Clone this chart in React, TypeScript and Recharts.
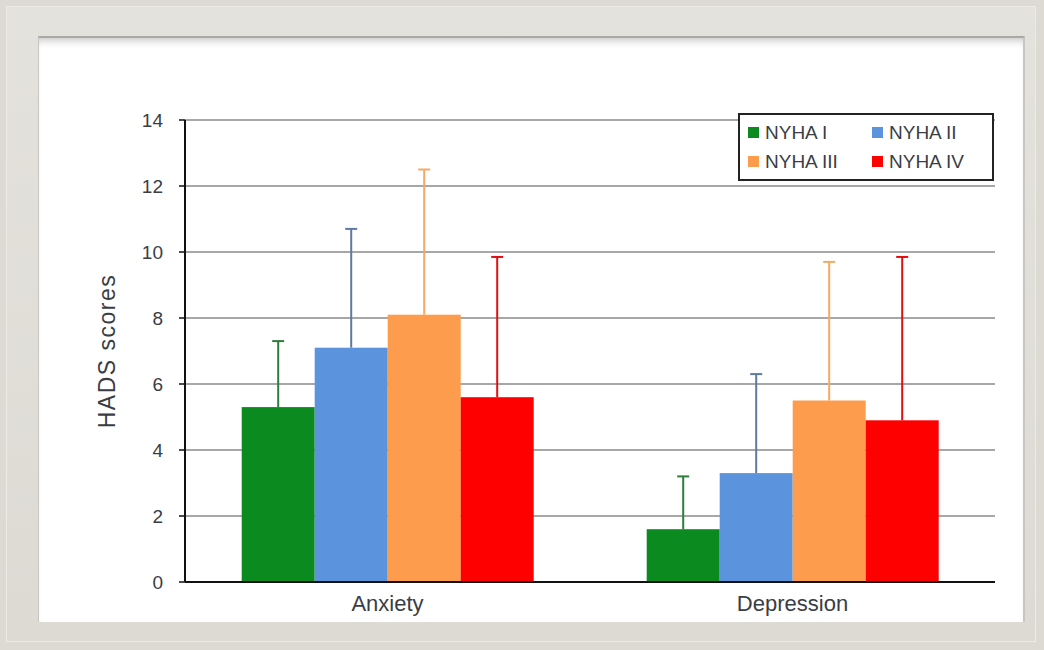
import { Bar, BarChart, CartesianGrid, XAxis, YAxis } from "recharts";

const categories = ["Anxiety", "Depression"];
const seriesNames = ["NYHA I", "NYHA II", "NYHA III", "NYHA IV"];
const nyha1 = [5.3, 1.6];
const nyha2 = [7.1, 3.3];
const nyha3 = [8.1, 5.5];
const nyha4 = [5.6, 4.9];
const sd1 = [2.0, 1.6];
const sd2 = [3.6, 3.0];
const sd3 = [4.4, 4.2];
const sd4 = [4.25, 4.95];
const yTicks = [0, 2, 4, 6, 8, 10, 12, 14];

const data = categories.map((name, i) => ({
  name,
  n1: nyha1[i],
  n2: nyha2[i],
  n3: nyha3[i],
  n4: nyha4[i],
  e1: sd1[i],
  e2: sd2[i],
  e3: sd3[i],
  e4: sd4[i],
}));

const series = [
  { key: "n1", err: "e1", fill: "#0b8a1f", line: "#2f7d3a" },
  { key: "n2", err: "e2", fill: "#5b93dc", line: "#5f7aa0" },
  { key: "n3", err: "e3", fill: "#fd9c4d", line: "#f6a866" },
  { key: "n4", err: "e4", fill: "#fe0000", line: "#e01010" },
];

const font = "'Liberation Sans', Arial, sans-serif";
const textColor = "#3a3d44";

// bar rect plus a one-sided (upward) error whisker with a cap
function barWithError(valueKey: string, errKey: string, lineColor: string) {
  return (props: any) => {
    const { x, y, width, height, fill, payload } = props;
    const v = payload[valueKey];
    const pxPerUnit = v ? height / v : 0;
    const top = y - payload[errKey] * pxPerUnit;
    const cx = x + width / 2;
    return (
      <g>
        <rect x={x} y={y} width={width} height={height} fill={fill} />
        <line x1={cx} x2={cx} y1={y} y2={top} stroke={lineColor} strokeWidth={2} />
        <line x1={cx - 6} x2={cx + 6} y1={top} y2={top} stroke={lineColor} strokeWidth={2} />
      </g>
    );
  };
}

function LegendBox() {
  return (
    <div
      style={{
        position: "absolute",
        left: 738,
        top: 113,
        width: 256,
        height: 68,
        border: "2px solid #222",
        background: "#fff",
        fontFamily: font,
        fontSize: 19,
        color: textColor,
        display: "grid",
        gridTemplateColumns: "124px 124px",
        alignContent: "center",
        rowGap: 7,
        paddingLeft: 8,
        boxSizing: "border-box",
      }}
    >
      {seriesNames.map((n, i) => (
        <div key={n} style={{ display: "flex", alignItems: "center", whiteSpace: "nowrap" }}>
          <span
            style={{
              display: "inline-block",
              width: 11,
              height: 11,
              background: series[i].fill,
              marginRight: 6,
            }}
          />
          {n}
        </div>
      ))}
    </div>
  );
}

export default function App() {
  return (
    <div
      style={{
        position: "fixed",
        left: 0,
        top: 0,
        width: 1044,
        height: 650,
        background: "#dcdad3",
      }}
    >
      <div
        style={{
          position: "absolute",
          left: 6,
          top: 6,
          width: 1030,
          height: 636,
          background: "linear-gradient(#e4e2dc, #dcdad3)",
          border: "1px solid #ecebe6",
          boxSizing: "border-box",
        }}
      />
      <div
        style={{
          position: "absolute",
          left: 38,
          top: 36,
          width: 987,
          height: 586,
          background: "#fff",
          borderTop: "2px solid #a9a8a3",
          borderLeft: "1px solid #c8c6c0",
          borderRight: "2px solid #c8c6c0",
          boxShadow: "inset 0 8px 8px -6px rgba(0,0,0,0.25)",
          boxSizing: "border-box",
        }}
      />
      <div style={{ position: "absolute", left: 0, top: 0 }}>
        <BarChart
          width={1044}
          height={650}
          data={data}
          margin={{ top: 120, right: 49, bottom: 28, left: 100 }}
          barCategoryGap="14%"
          barGap={0}
        >
          <CartesianGrid vertical={false} stroke="#8a8a8a" strokeWidth={1.5} />
          <XAxis
            dataKey="name"
            tickLine={false}
            axisLine={{ stroke: "#111", strokeWidth: 2 }}
            tick={{ fill: textColor, fontSize: 22, fontFamily: font }}
            tickMargin={7}
            height={40}
          />
          <YAxis
            domain={[0, 14]}
            ticks={yTicks}
            width={85}
            axisLine={{ stroke: "#111", strokeWidth: 2 }}
            tickLine={{ stroke: "#111", strokeWidth: 1.5 }}
            tickSize={6}
            tickMargin={16}
            tick={{ fill: textColor, fontSize: 19, fontFamily: font }}
            label={{
              value: "HADS scores",
              angle: -90,
              position: "insideLeft",
              dx: 2,
              style: {
                fill: textColor,
                fontSize: 23,
                letterSpacing: 1.5,
                fontFamily: font,
                textAnchor: "middle",
              },
            }}
          />
          {series.map((s, i) => (
            <Bar
              key={s.key}
              dataKey={s.key}
              name={seriesNames[i]}
              fill={s.fill}
              isAnimationActive={false}
              shape={barWithError(s.key, s.err, s.line)}
            />
          ))}
        </BarChart>
      </div>
      <LegendBox />
    </div>
  );
}
